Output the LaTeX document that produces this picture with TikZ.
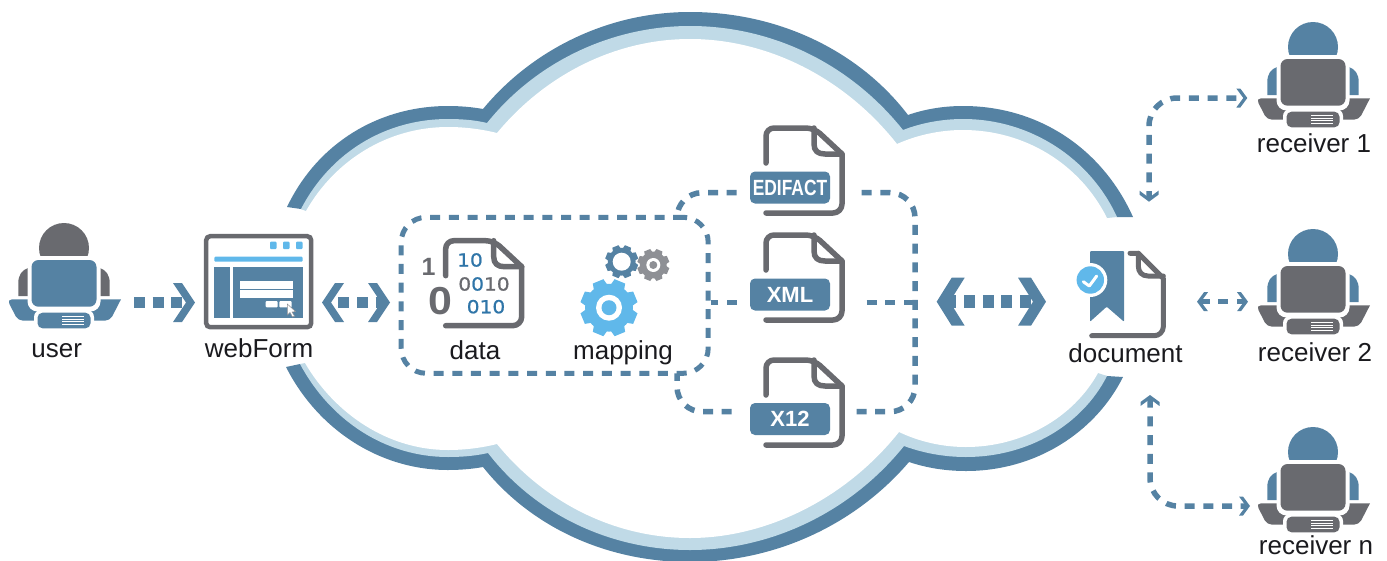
\documentclass[tikz,border=0pt]{standalone}
\usepackage{fontspec}
\setmainfont{Liberation Sans}
\newfontfamily\digitfont[FakeBold=0.8]{DejaVu Sans}
\usetikzlibrary{arrows.meta,positioning}
\definecolor{flowblue}{HTML}{5582A3}
\definecolor{bandlight}{HTML}{C0DAE7}
\definecolor{icongrey}{HTML}{696A6F}
\definecolor{skyblue}{HTML}{60B8EA}
\definecolor{geargrey}{HTML}{8E9095}
\definecolor{digitblue}{HTML}{2F75A8}
\definecolor{textblack}{HTML}{1A1A1E}

\pgfdeclarearrow{
	name=Chevron,
	parameters={\the\pgfarrowlength,\the\pgfarrowwidth,\the\pgfarrowinset},
	defaults={length=22pt,width=39pt,inset=13pt},
	setup code={
		\pgfarrowssettipend{\pgfarrowlength}
		\pgfarrowssetbackend{0pt}
		\pgfarrowssetlineend{\the\dimexpr(2\pgfarrowinset+\pgfarrowlength)/3\relax}
		\pgfarrowssavethe\pgfarrowlength
		\pgfarrowssavethe\pgfarrowwidth
		\pgfarrowssavethe\pgfarrowinset
	},
	drawing code={
		\pgfpathmoveto{\pgfqpoint{\pgfarrowlength}{0pt}}
		\pgfpathlineto{\pgfqpoint{\dimexpr\pgfarrowlength-\pgfarrowinset\relax}{.5\pgfarrowwidth}}
		\pgfpathlineto{\pgfqpoint{0pt}{.5\pgfarrowwidth}}
		\pgfpathlineto{\pgfqpoint{\pgfarrowinset}{0pt}}
		\pgfpathlineto{\pgfqpoint{0pt}{-.5\pgfarrowwidth}}
		\pgfpathlineto{\pgfqpoint{\dimexpr\pgfarrowlength-\pgfarrowinset\relax}{-.5\pgfarrowwidth}}
		\pgfpathclose
		\pgfusepathqfill
	}
}

\tikzset{
	caption/.style={anchor=base,inner sep=0pt,text=textblack,font=\fontsize{26}{30}\selectfont},
	badge/.style={fill=flowblue,rounded corners=5pt,minimum width=80pt,minimum height=32pt,inner sep=0pt,text=white,font=\fontsize{22}{26}\selectfont\bfseries},
	digits/.style={inner sep=0pt,font=\digitfont\fontsize{18}{22}\selectfont},
	flowline/.style={flowblue,line width=5.5pt,dash pattern=on 10pt off 8.7pt},
	smallflow/.style={flowline,>={Chevron[length=11pt,width=19pt,inset=7pt]}},
	midflow/.style={flowblue,line width=11pt,dash pattern=on 11pt off 7.7pt,>={Chevron}},
	bigflow/.style={flowblue,line width=13pt,dash pattern=on 11pt off 7.7pt,>={Chevron[length=28pt,width=48pt,inset=15pt]}},
	pics/person/.style 2 args={code={
		\fill[#1] (0,25) circle[radius=25];
		\fill[#1] (-45.7,73) -- (-45.7,60) .. controls (-45.7,52) and (-42,47) .. (-36,45) -- (-36,73) -- cycle;
		\fill[#1] (45.7,73) -- (45.7,60) .. controls (45.7,52) and (42,47) .. (36,45) -- (36,73) -- cycle;
		\fill[#2,rounded corners=5pt] (-57,76.3) [sharp corners] -- (57,76.3) [rounded corners=5pt] -- (46,97.7) -- (-46,97.7) -- cycle;
		\fill[white,rounded corners=10pt] (-36.5,33) rectangle (36.5,88.5);
		\fill[#2,rounded corners=7pt] (-32.5,37) rectangle (32.5,83.7);
		\fill[white,rounded corners=7pt] (-30,87) rectangle (30,108.5);
		\fill[#2,rounded corners=5pt] (-26.5,89.7) rectangle (26.5,105.3);
		\foreach \s in {93.5,96,98.5,101}
			\draw[white,line width=.9pt] (-2,\s) -- (19.5,\s);
	}},
	pics/fileicon/.style={code={
		\draw[icongrey,line width=5.5pt,line cap=round,line join=round]
			(0,35) [rounded corners=8pt] -- (0,0) -- (48,0) [sharp corners] -- (76,26)
			[rounded corners=9pt] -- (76,85) -- (0,85);
		\draw[icongrey,line width=5.5pt,line cap=round,line join=round]
			(48,0) -- (48,16) .. controls (48,23) and (52,26) .. (59,26) -- (76,26);
	}},
	pics/gearicon/.style n args={4}{code={
		\fill[#1] (0,0) circle[radius=.84*#2];
		\foreach \a in {0,45,...,315}
			\fill[#1,rotate=\a+22.5] (-.27*#2,.7*#2) -- (-.2*#2,#2) -- (.2*#2,#2) -- (.27*#2,.7*#2) -- cycle;
		\fill[white] (0,0) circle[radius=#3];
		\fill[#1] (0,0) circle[radius=#4];
	}},
}

\begin{document}
\begin{tikzpicture}[x=1pt,y=-1pt]
	\useasboundingbox (0,0) rectangle (1387,560);

	% cloud, upper half
	\fill[flowblue] (287,207) .. controls (318,142) and (380,106) .. (448,106) .. controls (460,106) and (472,107) .. (483,109)
		.. controls (530,52) and (605,12) .. (690,12) .. controls (780,12) and (860,52) .. (908,115)
		.. controls (925,109) and (944,106) .. (963,106) .. controls (1038,106) and (1102,148) .. (1133,217)
		-- (1117,217) -- (301,209) -- cycle;
	\fill[bandlight] (301,209) .. controls (330,153) and (385,119) .. (448,119) .. controls (461,119) and (475,120) .. (487,123)
		.. controls (535,63) and (610,26) .. (690,26) .. controls (775,26) and (852,66) .. (903,130)
		.. controls (921,123) and (942,119) .. (963,119) .. controls (1030,119) and (1090,158) .. (1117,217)
		-- (1107,218) -- (306,211) -- cycle;
	\fill[white] (306,211) .. controls (335,160) and (388,127) .. (448,127) .. controls (464,127) and (481,129) .. (497,133)
		.. controls (545,75) and (615,39) .. (690,39) .. controls (768,39) and (845,78) .. (897,144)
		.. controls (917,135) and (940,130) .. (963,130) .. controls (1025,130) and (1080,164) .. (1107,218)
		-- (1098,228) -- (312,228) -- cycle;

	% cloud, lower half
	\fill[flowblue] (286,367) .. controls (318,430) and (380,470) .. (448,470) .. controls (460,470) and (472,469) .. (483,467)
		.. controls (530,526) and (605,562) .. (690,562) .. controls (775,562) and (855,525) .. (909,462)
		.. controls (927,468) and (946,471) .. (966,471) .. controls (1035,471) and (1095,433) .. (1123,377)
		-- (1107,376) -- (300,364) -- cycle;
	\fill[bandlight] (300,364) .. controls (330,420) and (385,457) .. (448,457) .. controls (461,457) and (475,456) .. (488,453)
		.. controls (535,514) and (610,550) .. (690,550) .. controls (770,550) and (850,513) .. (904,446)
		.. controls (923,453) and (944,457) .. (966,457) .. controls (1028,457) and (1082,425) .. (1107,376)
		-- (1098,373) -- (305,363) -- cycle;
	\fill[white] (305,363) .. controls (335,414) and (388,450) .. (448,450) .. controls (464,450) and (481,448) .. (497,444)
		.. controls (545,503) and (615,538) .. (690,538) .. controls (765,538) and (845,500) .. (899,432)
		.. controls (920,442) and (943,447) .. (966,447) .. controls (1022,447) and (1073,418) .. (1098,373)
		-- (1090,352) -- (312,352) -- cycle;

	% people
	\pic (user) at (64,223) {person={icongrey}{flowblue}};
	\pic (receiverone) at (1313,22) {person={flowblue}{icongrey}};
	\pic (receivertwo) at (1313,229) {person={flowblue}{icongrey}};
	\pic (receivern) at (1313,427) {person={flowblue}{icongrey}};

	\node[caption] (userlabel) at (56.7,357.7) {user};
	\node[caption] (webformlabel) at (259,357.7) {webForm};
	\node[caption] (datalabel) at (475,359) {data};
	\node[caption] (mappinglabel) at (623,359) {mapping};
	\node[caption] (documentlabel) at (1125.5,362.3) {document};
	\node[caption] (receiveronelabel) at (1314,152.7) {receiver 1};
	\node[caption] (receivertwolabel) at (1315,361.7) {receiver 2};
	\node[caption] (receivernlabel) at (1316,554) {receiver n};

	% web form window
	\node[draw=icongrey,line width=4.5pt,rounded corners=4pt,minimum width=105pt,minimum height=91pt,inner sep=0pt] (webbox) at (258.7,281.7) {};
	\foreach \q in {270,283,296}
		\fill[skyblue,rounded corners=1pt] (\q,241.7) rectangle (\q+6.7,249);
	\fill[skyblue,rounded corners=1pt] (214.3,256.7) rectangle (302.7,261.7);
	\fill[flowblue] (214.3,267.3) rectangle (302.7,318.3);
	\fill[white] (230,267.3) rectangle (232.7,318.3);
	\fill[white] (240,281) rectangle (292.7,289);
	\fill[white] (240,290) rectangle (292.7,297.7);
	\fill[white,rounded corners=1pt] (265.7,301) rectangle (277.7,307.3);
	\fill[white,rounded corners=1pt] (279.3,301) rectangle (291.7,307.3);
	\draw[fill=white,draw=geargrey,line width=.5pt] (287.3,304) -- (287.3,315) -- (290,312.5) -- (292.5,317) -- (294.5,316) -- (292,312) -- (295.5,311.5) -- cycle;

	% data file
	\pic (datafile) at (445.7,240.7) {fileicon};
	\node[digits,text=digitblue] (digitsa) at (470,260) {\scalebox{1.12}[1]{10}};
	\node[digits,text=icongrey] (digitsb) at (484,284) {\scalebox{1.12}[1]{0\textcolor{digitblue}{0}10}};
	\node[digits,text=digitblue] (digitsc) at (486,306.7) {\scalebox{1.12}[1]{010}};
	\node[inner sep=0pt,text=icongrey,font=\fontsize{25}{28}\selectfont\bfseries] (bigone) at (428.5,267.3) {1};
	\node[inner sep=0pt,text=icongrey,font=\fontsize{39}{42}\selectfont\bfseries] (bigzero) at (440,301) {\scalebox{1.1}[1]{0}};

	% gears
	\pic (gearbig) at (609,307.7) {gearicon={skyblue}{28.5}{13}{7.5}};
	\pic (gearblue) at (621.7,261.7) {gearicon={flowblue}{16.5}{9}{0}};
	\pic (geargrey) at (653.3,265) {gearicon={geargrey}{16}{7}{4}};

	% format files
	\pic (edifactfile) at (766,128) {fileicon};
	\pic (xmlfile) at (766,235) {fileicon};
	\pic (xtwelvefile) at (766,360) {fileicon};
	\node[badge] (edifact) at (790,187.5) {\scalebox{.79}[1]{EDIFACT}};
	\node[badge] (xml) at (790,294.5) {XML};
	\node[badge] (xtwelve) at (790,419) {X12};

	% issued document
	\fill[flowblue,rounded corners=1pt] (1090,251) -- (1124,251) -- (1124,321.7) -- (1106.7,306.7) -- (1090,321.7) -- cycle;
	\fill[white] (1090.3,280) circle[radius=17];
	\fill[skyblue] (1090.3,280) circle[radius=13.7];
	\draw[white,line width=3pt,line cap=round,line join=round] (1083.3,281.7) -- (1089.3,286) -- (1096.7,276);
	\draw[icongrey,line width=5pt,line cap=round,line join=round] (1130,253.3) -- (1138.3,253.3) -- (1163.3,278.3)
		[rounded corners=9pt] -- (1163.3,335.7) -- (1091.7,335.7);
	\draw[icongrey,line width=5pt,line cap=round,line join=round] (1138.3,253.3) -- (1138.3,266) .. controls (1138.3,272) and (1142,276) .. (1148,276) -- (1163.3,276);

	% mapping box
	\node[draw=flowblue,line width=5pt,dash pattern=on 10pt off 8.7pt,rounded corners=25pt,minimum width=307pt,minimum height=156pt,inner sep=0pt] (mapbox) at (554.7,295.3) {};

	% free ends
	\coordinate (userout) at (134,302.5);
	\coordinate (webin) at (195,302.5);
	\coordinate (webout) at (322,302.5);
	\coordinate (datain) at (390,302.5);
	\coordinate (cloudout) at (936.7,301.7);
	\coordinate (docin) at (1046,301.7);
	\coordinate (edifactleft) at (736.7,192.7);
	\coordinate (edifactright) at (861.7,192.7);
	\coordinate (xmlleft) at (736.7,302.3);
	\coordinate (xmlright) at (866.7,302.3);
	\coordinate (xtwelveleft) at (731.7,411.7);
	\coordinate (xtwelveright) at (856.7,411.7);
	\coordinate (topjoin) at (677,217.3);
	\coordinate (bottomjoin) at (677,373.3);
	\coordinate (bus) at (915,302.3);
	\coordinate (docup) at (1149,201.7);
	\coordinate (docright) at (1197,301.7);
	\coordinate (docdown) at (1150,395);
	\coordinate (recvoneport) at (1247.3,98);
	\coordinate (recvtwoport) at (1248,301.7);
	\coordinate (recvnport) at (1250,506);

	% connectors
	\draw[midflow,->] (userout) -- (webin);
	\draw[midflow,<->,dash phase=8.4pt] (webout) -- (datain);
	\draw[bigflow,<->] (cloudout) -- (docin);
	\draw[flowline,rounded corners=25pt] (edifactleft) -| (topjoin);
	\draw[flowline] (xmlleft) -- (mapbox.east |- xmlleft);
	\draw[flowline,rounded corners=25pt] (xtwelveleft) -| (bottomjoin);
	\draw[flowline,rounded corners=25pt] (edifactright) -| (bus) |- (xtwelveright);
	\draw[flowline] (xmlright) -- (bus);
	\draw[smallflow,<->,rounded corners=28pt,dash phase=10.4pt] (recvoneport) -| (docup);
	\draw[smallflow,<->] (docright) -- (recvtwoport);
	\draw[smallflow,<->,rounded corners=28pt] (docdown) |- (recvnport);
\end{tikzpicture}
\end{document}
